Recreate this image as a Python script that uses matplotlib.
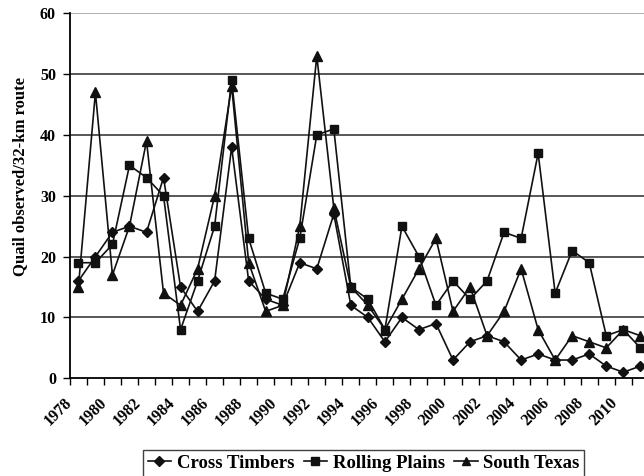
#!/usr/bin/env python3
"""Quail observed per 32-km route, 1978-2011, three Texas ecoregions."""
import matplotlib
matplotlib.use("Agg")
import matplotlib.pyplot as plt
from matplotlib.transforms import ScaledTranslation

years = list(range(1978, 2012))
cross_timbers = [16, 20, 24, 25, 24, 33, 15, 11, 16, 38, 16, 13, 12, 19, 18, 27, 12,
                 10, 6, 10, 8, 9, 3, 6, 7, 6, 3, 4, 3, 3, 4, 2, 1, 2]
rolling_plains = [19, 19, 22, 35, 33, 30, 8, 16, 25, 49, 23, 14, 13, 23, 40, 41, 15,
                  13, 8, 25, 20, 12, 16, 13, 16, 24, 23, 37, 14, 21, 19, 7, 8, 5]
south_texas = [15, 47, 17, 25, 39, 14, 12, 18, 30, 48, 19, 11, 12, 25, 53, 28, 15,
               12, 8, 13, 18, 23, 11, 15, 7, 11, 18, 8, 3, 7, 6, 5, 8, 7]
yticks = [0, 10, 20, 30, 40, 50, 60]

plt.rcParams["font.family"] = ["Liberation Serif", "DejaVu Serif"]
plt.rcParams["font.weight"] = "bold"

fig = plt.figure(figsize=(6.44, 4.76), dpi=100)
ax = fig.add_axes([0.1085, 0.2053, 0.899, 0.7667])

x = list(range(len(years)))
series = [
    (cross_timbers, "D", 5.5, "Cross Timbers"),
    (rolling_plains, "s", 6.0, "Rolling Plains"),
    (south_texas, "^", 6.8, "South Texas"),
]
for vals, mk, ms, name in series:
    ax.plot(x, vals, color="#111111", lw=1.2, marker=mk, ms=ms,
            mec="#111111", mfc="#111111", label=name, clip_on=False)

ax.set_xlim(-0.5, len(years) - 0.5)
ax.set_ylim(0, 60)
ax.set_yticks(yticks)
ax.set_yticklabels([str(v) for v in yticks], fontsize=11.5, fontweight="bold")
for v in yticks[1:]:
    ax.axhline(v, color="#a8a8a8" if v == 60 else "#4a4a4a", lw=1.3, zorder=0)

# category boundary ticks; year labels every 2 years, set off like Excel's
ax.set_xticks([i - 0.5 for i in range(len(years) + 1)])
ax.set_xticklabels([])
ax.tick_params(axis="x", length=5, width=1, direction="out")
ax.tick_params(axis="y", length=5, width=1, direction="out", pad=5)
shift = ScaledTranslation(-14 / 100, -17 / 100, fig.dpi_scale_trans)
for i in x[::2]:
    ax.text(i, 0, str(years[i]), transform=ax.get_xaxis_transform() + shift,
            rotation=45, ha="right", va="top", rotation_mode="anchor",
            fontsize=11.5, fontweight="bold", clip_on=False)

for s in ["top", "right"]:
    ax.spines[s].set_visible(False)
ax.spines["left"].set_linewidth(1.3)
ax.spines["bottom"].set_linewidth(1.3)

ax.set_ylabel("Quail observed/32-km route", fontsize=12, fontweight="bold")
ax.yaxis.set_label_coords(-0.0724, 0.553)

leg = fig.legend(loc="upper left", bbox_to_anchor=(143 / 644, 1 - 450 / 476), ncol=3,
                 frameon=True, fancybox=False, edgecolor="#111111",
                 prop={"family": "Liberation Serif", "weight": "bold", "size": 13.5},
                 handlelength=1.25, handletextpad=0.3, columnspacing=0.5,
                 borderpad=0.25, borderaxespad=0, markerscale=0.85)
leg.get_frame().set_linewidth(1.0)

fig.savefig("out.png", dpi=100)
